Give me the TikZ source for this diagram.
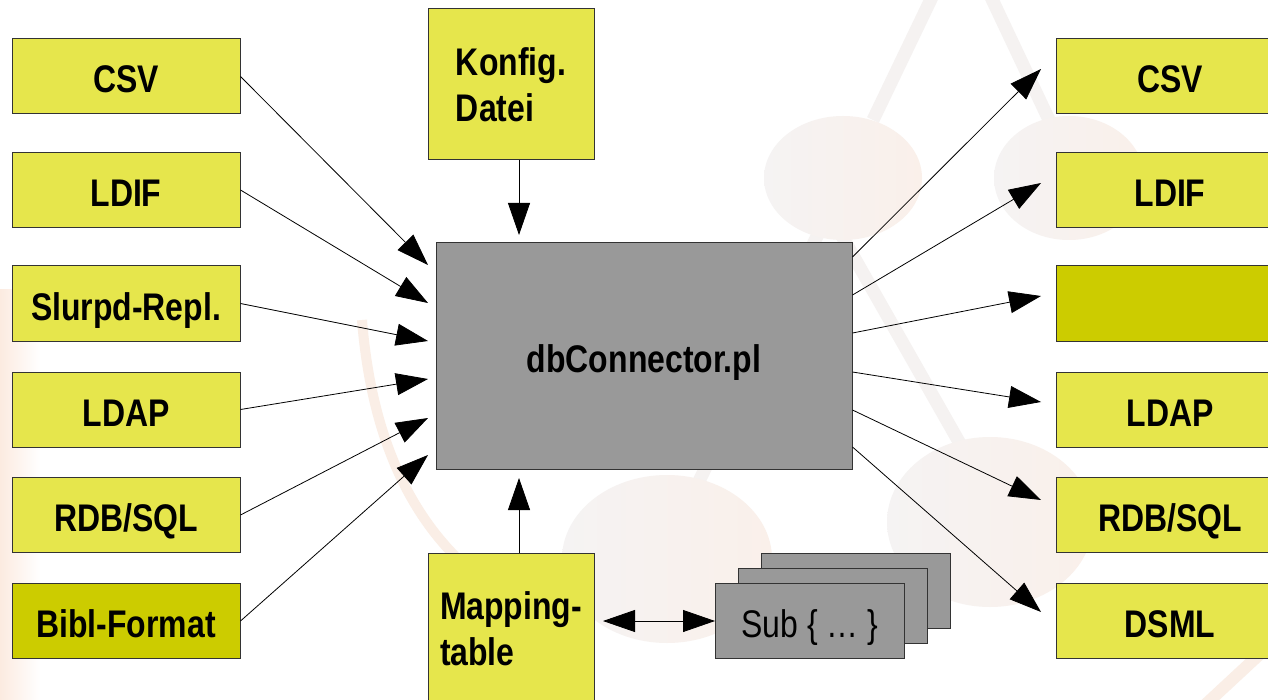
\documentclass[tikz,border=0pt]{standalone}
\usepackage{fontspec}
\setmainfont[FakeStretch=0.83]{Liberation Sans}
\usetikzlibrary{arrows.meta}
\definecolor{boxyel}{HTML}{E6E64C}
\definecolor{boxdark}{HTML}{CCCC00}
\definecolor{boxgray}{HTML}{999999}
\definecolor{edgecol}{HTML}{333333}
\definecolor{wmgray}{HTML}{F5F3F3}
\definecolor{wmorange}{HTML}{FAF0EA}
\definecolor{wmline}{HTML}{F5F2F1}
\definecolor{wmedge}{HTML}{FCEBE0}
\definecolor{wmarc}{HTML}{FAEEE6}
\begin{document}
\begin{tikzpicture}[x=1pt,y=-1pt,
  base/.style={draw=edgecol, line width=1pt, inner sep=0pt, text=black,
    font=\fontsize{38.5}{46}\selectfont\bfseries},
  oneline/.style={text height=33pt, text depth=0pt},
  ioleft/.style={base, oneline, fill=boxyel, minimum width=228pt, minimum height=75pt},
  iodark/.style={ioleft, fill=boxdark},
  tallbox/.style={base, fill=boxyel, minimum width=166pt, minimum height=151pt, align=left},
  mainbox/.style={base, oneline, fill=boxgray, minimum width=416pt, minimum height=226pt},
  subbox/.style={draw=edgecol, line width=1pt, fill=boxgray, minimum width=189pt, minimum height=75pt,
    inner sep=0pt, oneline, font=\fontsize{38.5}{46}\selectfont},
  arr/.style={draw=black, line width=0.8pt, -{Triangle[length=32pt,width=22pt]}},
  darr/.style={draw=black, line width=0.8pt, {Triangle[length=32pt,width=22pt]}-{Triangle[length=32pt,width=22pt]}},
  wmstroke/.style={draw=wmline, line width=13pt}
]
\useasboundingbox (0,0) rectangle (1268,700);
\fill[white] (0,0) rectangle (1268,700);
% watermark
\shade[left color=wmedge, right color=white] (0,290) rectangle (40,700);
\draw[wmstroke] (933,-5) -- (873,120);
\draw[wmstroke] (990,-5) -- (1050,122);
\draw[wmstroke] (830,215) -- (975,470);
\draw[wmstroke] (820,230) -- (690,500);
\draw[draw=wmarc, line width=10pt] (362,320) .. controls (370,420) and (400,500) .. (455,556);
\draw[draw=wmarc, line width=12pt] (1275,640) -- (1205,705);
\shade[left color=wmgray, right color=wmorange] (843,178) ellipse (79 and 62);
\shade[left color=wmgray, right color=wmorange] (1069,178) ellipse (75 and 62);
\shade[left color=wmgray, right color=wmorange] (990,522) ellipse (103 and 85);
\shade[left color=wmgray, right color=wmorange] (667,559) ellipse (105 and 84);
% nodes
\node[ioleft] (csvL)  at (126,76.5)  {CSV};
\node[ioleft] (ldifL) at (126,190)   {LDIF};
\node[ioleft] (slurp) at (126,303.5) {Slurpd-Repl.};
\node[ioleft] (ldapL) at (126,409.5) {LDAP};
\node[ioleft] (rdbL)  at (126,515)   {RDB/SQL};
\node[iodark] (bibl)  at (126,621)   {Bibl-Format};
\node[ioleft] (csvR)  at (1170,76.5)  {CSV};
\node[ioleft] (ldifR) at (1170,190)   {LDIF};
\node[iodark] (blank) at (1170,303.5) {};
\node[ioleft] (ldapR) at (1170,409.5) {LDAP};
\node[ioleft] (rdbR)  at (1170,515)   {RDB/SQL};
\node[ioleft] (dsml)  at (1170,621)   {DSML};
\node[tallbox] (konfig) at (511,84.5) {Konfig.\\Datei};
\node[tallbox] (mapping) at (511,628.5) {Mapping-\\table};
\node[mainbox] (main) at (644,356) {dbConnector.pl};
\node[subbox] (sub3) at (855.5,590.5) {};
\node[subbox] (sub2) at (832.75,605.5) {};
\node[subbox] (sub1) at (810,621) {Sub \{ … \}};
% arrow tips
\coordinate (t1) at (428,265);
\coordinate (t2) at (428,303);
\coordinate (t3) at (428,341);
\coordinate (t4) at (428,379);
\coordinate (t5) at (428,418);
\coordinate (t6) at (428,455);
\coordinate (tk) at (519,235);
\coordinate (tm) at (519,478);
\coordinate (r1) at (1041,69);
\coordinate (r2) at (1041,183);
\coordinate (r3) at (1041,296);
\coordinate (r4) at (1041,402);
\coordinate (r5) at (1041,500);
\coordinate (r6) at (1041,612);
\coordinate (dl) at (603,621);
% connectors
\draw[arr] (csvL.east) -- (t1);
\draw[arr] (ldifL.east) -- (t2);
\draw[arr] (slurp.east) -- (t3);
\draw[arr] (ldapL.east) -- (t4);
\draw[arr] (rdbL.east) -- (t5);
\draw[arr] (bibl.east) -- (t6);
\draw[arr] (konfig.south -| 519,0) -- (tk);
\draw[arr] (mapping.north -| 519,0) -- (tm);
\draw[arr] (main.east |- 0,257) -- (r1);
\draw[arr] (main.east |- 0,295) -- (r2);
\draw[arr] (main.east |- 0,333) -- (r3);
\draw[arr] (main.east |- 0,372) -- (r4);
\draw[arr] (main.east |- 0,410) -- (r5);
\draw[arr] (main.east |- 0,447) -- (r6);
\draw[darr] (dl) -- (sub1.west);
\end{tikzpicture}
\end{document}
